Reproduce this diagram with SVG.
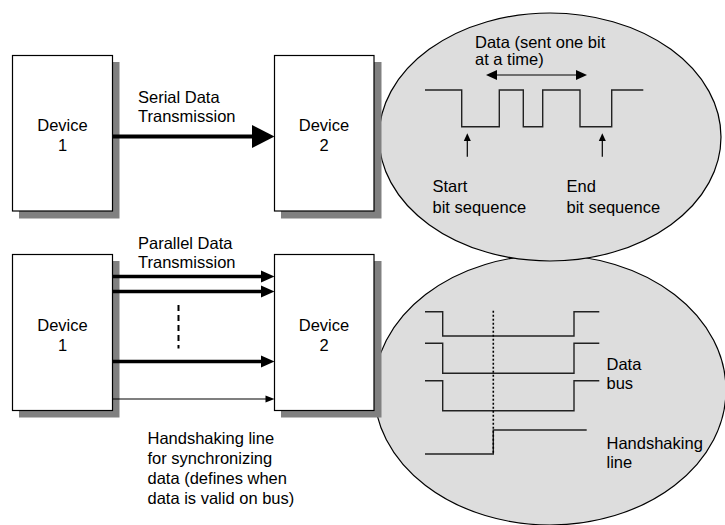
<svg xmlns="http://www.w3.org/2000/svg" width="725" height="525" viewBox="0 0 725 525">
  <style>
    .box { fill: #ffffff; stroke: #000000; stroke-width: 1.2; }
    .shadow { fill: #808080; }
    .lens { fill: #dddddd; stroke: #000000; stroke-width: 1.2; }
    .wave { fill: none; stroke: #222222; stroke-width: 1.4; }
    .lbl { font-family: "Liberation Sans", Arial, sans-serif; font-size: 16.5px; fill: #000000; }
    .mid { text-anchor: middle; }
    .thick { stroke: #000000; stroke-width: 4; fill: none; }
    .bus { stroke: #000000; stroke-width: 3.6; fill: none; }
    .thin { stroke: #000000; stroke-width: 1.2; fill: none; }
    .head { fill: #000000; }
  </style>

  <!-- magnified signal views -->
  <g id="serial-view">
    <ellipse class="lens" cx="550" cy="390" rx="176" ry="135"/>
  </g>
  <g id="parallel-view-top">
    <ellipse class="lens" cx="550" cy="137" rx="171" ry="124"/>
  </g>

  <!-- devices -->
  <g id="dev1-serial">
    <rect class="shadow" x="19" y="62" width="100.5" height="156.5"/>
    <rect class="box" x="12.5" y="55.5" width="100" height="155.5"/>
    <text class="lbl mid" x="62.5" y="131">Device</text>
    <text class="lbl mid" x="62.5" y="151">1</text>
  </g>
  <g id="dev2-serial">
    <rect class="shadow" x="281" y="62" width="100.5" height="156.5"/>
    <rect class="box" x="274.5" y="55.5" width="99.5" height="155.5"/>
    <text class="lbl mid" x="324" y="131">Device</text>
    <text class="lbl mid" x="324" y="151">2</text>
  </g>
  <g id="dev1-parallel">
    <rect class="shadow" x="19" y="261" width="100.5" height="156.5"/>
    <rect class="box" x="12.5" y="254.5" width="100" height="156"/>
    <text class="lbl mid" x="62.5" y="331">Device</text>
    <text class="lbl mid" x="62.5" y="351">1</text>
  </g>
  <g id="dev2-parallel">
    <rect class="shadow" x="281" y="261" width="100.5" height="156.5"/>
    <rect class="box" x="274.5" y="254.5" width="99.5" height="156"/>
    <text class="lbl mid" x="324" y="331">Device</text>
    <text class="lbl mid" x="324" y="351">2</text>
  </g>

  <!-- connectors -->
  <g id="connectors">
    <!-- serial link -->
    <line class="thick" x1="113" y1="136.5" x2="254" y2="136.5"/>
    <polygon class="head" points="252,125 274.5,136.5 252,148"/>

    <!-- parallel data lines -->
    <line class="bus" x1="113" y1="276.5" x2="263" y2="276.5"/>
    <polygon class="head" points="261,270.5 274.5,276.5 261,282.5"/>
    <line class="bus" x1="113" y1="291.5" x2="263" y2="291.5"/>
    <polygon class="head" points="261,285.5 274.5,291.5 261,297.5"/>
    <line class="bus" x1="113" y1="361.5" x2="263" y2="361.5"/>
    <polygon class="head" points="261,355.5 274.5,361.5 261,367.5"/>
    <line x1="178.5" y1="305" x2="178.5" y2="348.5" stroke="#000000" stroke-width="2" stroke-dasharray="6,4"/>

    <!-- handshaking line -->
    <line class="thin" x1="113" y1="399" x2="267" y2="399"/>
    <polygon class="head" points="265.5,395.5 274.5,399 265.5,402.5"/>
  </g>

  <!-- link labels -->
  <g id="labels">
    <text class="lbl" x="138" y="102.5">Serial Data</text>
    <text class="lbl" x="138" y="121.5">Transmission</text>
    <text class="lbl" x="138" y="249">Parallel Data</text>
    <text class="lbl" x="138" y="268">Transmission</text>
    <text class="lbl" x="147.5" y="444">Handshaking line</text>
    <text class="lbl" x="147.5" y="464">for synchronizing</text>
    <text class="lbl" x="147.5" y="484">data (defines when</text>
    <text class="lbl" x="147.5" y="504">data is valid on bus)</text>
  </g>

  <!-- serial waveform detail -->
  <g id="serial-wave">
    <polyline class="wave" points="425,90 461.7,90 461.7,126.7 499.3,126.7 499.3,90 523.3,90 523.3,126.7 542.7,126.7 542.7,90 580,90 580,126.7 611.7,126.7 611.7,90 643.3,90"/>
    <line class="thin" x1="494" y1="75" x2="579" y2="75"/>
    <polygon class="head" points="486,75 497,70 497,80"/>
    <polygon class="head" points="587,75 576,70 576,80"/>
    <line class="thin" x1="467.3" y1="140" x2="467.3" y2="156.7"/>
    <polygon class="head" points="467.3,133.3 463.8,141 470.8,141"/>
    <line class="thin" x1="602.3" y1="140" x2="602.3" y2="156.7"/>
    <polygon class="head" points="602.3,133.3 598.8,141 605.8,141"/>
    <text class="lbl" x="475" y="47.5">Data (sent one bit</text>
    <text class="lbl" x="475" y="65">at a time)</text>
    <text class="lbl" x="432.5" y="191.5">Start</text>
    <text class="lbl" x="432.5" y="212.5">bit sequence</text>
    <text class="lbl" x="566.5" y="191.5">End</text>
    <text class="lbl" x="566.5" y="212.5">bit sequence</text>
  </g>

  <!-- parallel waveform detail -->
  <g id="parallel-wave">
    <polyline class="wave" points="425,311.7 442.7,311.7 442.7,336 574,336 574,311.7 599.3,311.7"/>
    <polyline class="wave" points="425,343.3 442.7,343.3 442.7,373.3 574,373.3 574,343.3 599.3,343.3"/>
    <polyline class="wave" points="425,380.7 442.7,380.7 442.7,410.7 574,410.7 574,380.7 599.3,380.7"/>
    <polyline class="wave" points="425,454 493.3,454 493.3,430 586.7,430"/>
    <line x1="493.3" y1="310.7" x2="493.3" y2="454" stroke="#000000" stroke-width="1.6" stroke-dasharray="2,2"/>
    <text class="lbl" x="606.5" y="369.5">Data</text>
    <text class="lbl" x="606.5" y="388.5">bus</text>
    <text class="lbl" x="606.5" y="448.5">Handshaking</text>
    <text class="lbl" x="606.5" y="467.5">line</text>
  </g>
</svg>
